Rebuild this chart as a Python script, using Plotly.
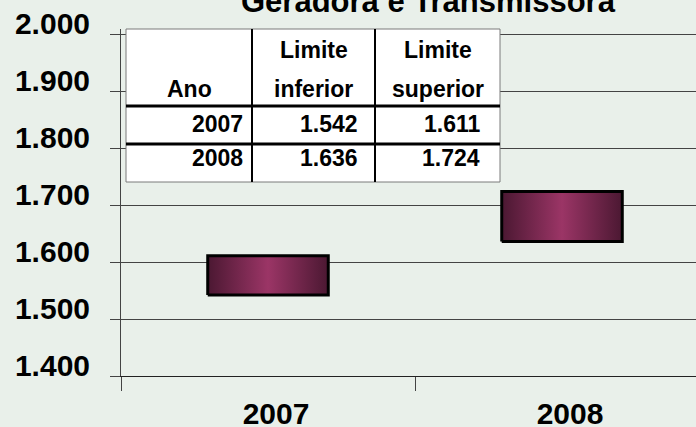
import plotly.graph_objects as go

anos = ["2007", "2008"]
limite_inferior = [1542, 1636]
limite_superior = [1611, 1724]
eixo_y = [1400, 1500, 1600, 1700, 1800, 1900, 2000]
cabecalho = [["Ano"], ["Limite", "inferior"], ["Limite", "superior"]]
titulo = "Geradora e Transmissora"


def pt(v):
    # separador de milhar com ponto
    return f"{v:,}".replace(",", ".")


FONTE = "Liberation Sans"
ESCURO = "#4b1832"
CLARO = "#9b3566"
FUNDO = "#e9f0ea"

W, H = 696, 427
L, T, B = 121, 29, H - 376
PW, PH = W - L, H - T - B


def px(x):
    return (x - L) / PW


def py(y):
    return (H - B - y) / PH


fig = go.Figure()

meia = 0.205
for i, ano in enumerate(anos):
    x0, x1 = i - meia, i + meia
    lo, hi = limite_inferior[i], limite_superior[i]
    fig.add_trace(go.Scatter(
        x=[x0, x1, x1, x0, x0],
        y=[lo, lo, hi, hi, lo],
        fill="toself", mode="lines",
        line=dict(color="black", width=3),
        fillgradient=dict(type="horizontal",
                          colorscale=[[0, ESCURO], [0.5, CLARO], [1, ESCURO]]),
        hoverinfo="skip", showlegend=False))

# tabela desenhada com formas e textos
col_x = [126, 252, 375, 500]
lin_y = [29, 106, 144, 182]
fonte_tab = dict(family=FONTE, size=23, color="black", weight="bold")

fig.add_shape(type="rect", xref="paper", yref="paper",
              x0=px(col_x[0]), x1=px(col_x[-1]), y0=py(lin_y[-1]), y1=py(lin_y[0]),
              fillcolor="white", line=dict(color="#7a7a7a", width=1))
for cx in col_x[1:-1]:
    fig.add_shape(type="line", xref="paper", yref="paper",
                  x0=px(cx), x1=px(cx), y0=py(lin_y[-1]), y1=py(lin_y[0]),
                  line=dict(color="black", width=2))
for ly in lin_y[1:-1]:
    fig.add_shape(type="line", xref="paper", yref="paper",
                  x0=px(col_x[0]), x1=px(col_x[-1]), y0=py(ly), y1=py(ly),
                  line=dict(color="black", width=3))

for j, linhas in enumerate(cabecalho):
    cx = (col_x[j] + col_x[j + 1]) / 2
    for k, txt in enumerate(reversed(linhas)):
        fig.add_annotation(text=txt, xref="paper", yref="paper",
                           x=px(cx), y=py(89 - 39 * k), xanchor="center", yanchor="middle",
                           showarrow=False, font=fonte_tab)

colunas = [anos, [pt(v) for v in limite_inferior], [pt(v) for v in limite_superior]]
pad_dir = [7, 15, 18]
centro_lin = [124, 158]
for j, col in enumerate(colunas):
    for k, txt in enumerate(col):
        fig.add_annotation(text=txt, xref="paper", yref="paper",
                           x=px(col_x[j + 1] - pad_dir[j]), y=py(centro_lin[k]),
                           xanchor="right", yanchor="middle",
                           showarrow=False, font=fonte_tab)

# titulo parcialmente cortado no topo, como no original
fig.add_annotation(text=titulo, xref="paper", yref="paper", x=px(428), y=1,
                   xanchor="center", yanchor="bottom", yshift=8, showarrow=False,
                   font=dict(family=FONTE, size=31, color="black", weight="bold"))

fig.update_layout(
    width=W, height=H,
    margin=dict(l=L, r=0, t=T, b=B, autoexpand=False),
    paper_bgcolor=FUNDO, plot_bgcolor=FUNDO,
    separators=",.",
    font=dict(family=FONTE, color="black"),
    xaxis=dict(range=[-0.5, -0.5 + PW / 294], tickvals=[0, 1], ticktext=anos,
               ticks="", showgrid=False, zeroline=False, automargin=False,
               showline=True, linecolor="#222", linewidth=1,
               ticklabelstandoff=11, ticklabelshift=8,
               tickfont=dict(family=FONTE, size=30, color="black", weight="bold"),
               minor=dict(tickvals=[-0.5, 0.5, 1.5], ticks="outside", ticklen=14,
                          tickcolor="#444", tickwidth=1, showgrid=False)),
    yaxis=dict(range=[1400, 2009], tickvals=eixo_y, tickformat=",d",
               ticks="outside", ticklen=10, tickcolor="#444", automargin=False,
               showline=True, linecolor="#444", linewidth=1,
               showgrid=True, gridcolor="#444", gridwidth=1, zeroline=False,
               ticklabelstandoff=14, ticklabelshift=-11, ticklabeloverflow="allow",
               tickfont=dict(family=FONTE, size=30, color="black", weight="bold")),
)

# sem a margem padrao do body, o grafico ocupa a janela inteira
fig.write_html("out.html", config={"displayModeBar": False},
               post_script="document.body.style.margin='0';")
